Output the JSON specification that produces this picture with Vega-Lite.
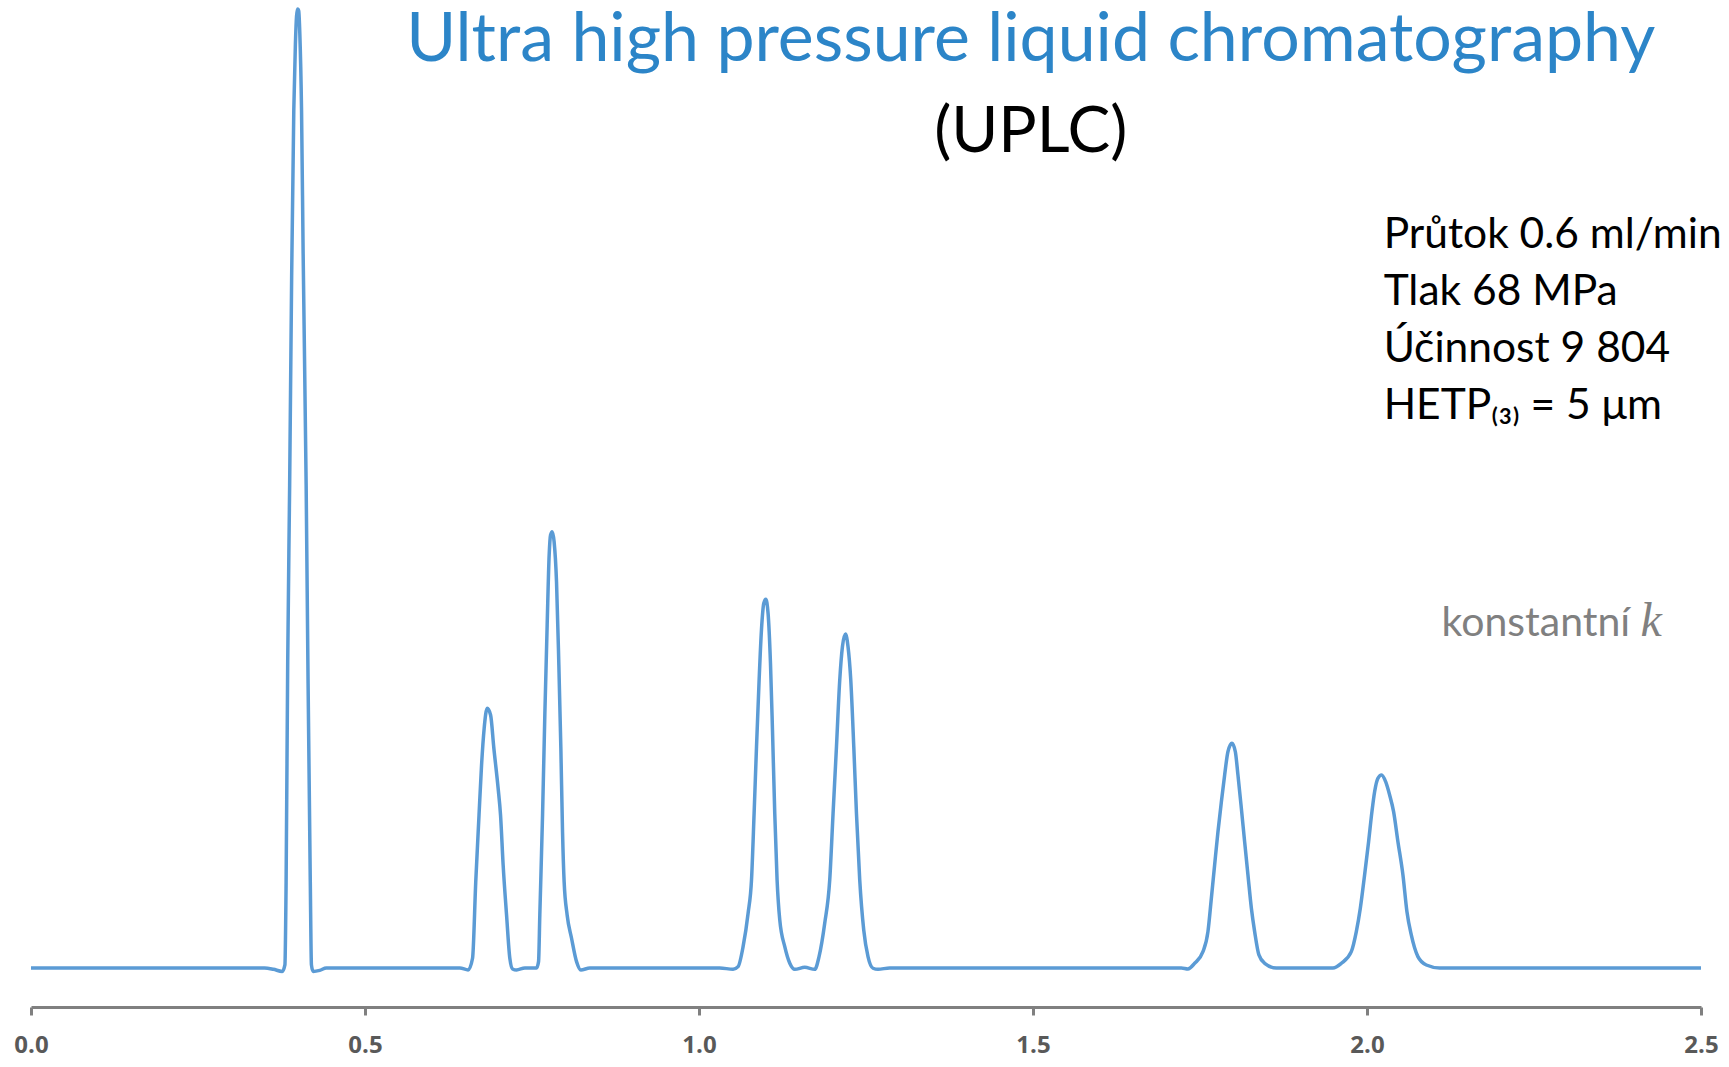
{
  "$schema": "https://vega.github.io/schema/vega-lite/v6.json",
  "width": 1670,
  "height": 1007,
  "autosize": {"type": "none"},
  "padding": {"left": 31, "top": 0, "right": 28, "bottom": 60},
  "background": "white",
  "config": {"view": {"stroke": null}},
  "layer": [
    {
      "data": {"values": [
        {"t": 0, "s": 0}, {"t": 0.3497, "s": 0}, {"t": 0.3629, "s": -0.14}, {"t": 0.3761, "s": -0.36},
        {"t": 0.3801, "s": 0.32}, {"t": 0.3819, "s": 8.95}, {"t": 0.3843, "s": 31.95}, {"t": 0.3872, "s": 50.34},
        {"t": 0.3902, "s": 72.19}, {"t": 0.3934, "s": 89.44}, {"t": 0.3958, "s": 96.34}, {"t": 0.3975, "s": 99.22},
        {"t": 0.3991, "s": 100}, {"t": 0.4008, "s": 99.79}, {"t": 0.4024, "s": 97.49}, {"t": 0.405, "s": 89.44},
        {"t": 0.4074, "s": 74.49}, {"t": 0.4119, "s": 50.34}, {"t": 0.4148, "s": 29.65}, {"t": 0.4181, "s": 8.95},
        {"t": 0.4198, "s": 0.32}, {"t": 0.4223, "s": -0.36}, {"t": 0.4322, "s": -0.25}, {"t": 0.4421, "s": 0},
        {"t": 0.642, "s": 0}, {"t": 0.6544, "s": -0.21}, {"t": 0.661, "s": 1.01}, {"t": 0.6658, "s": 9.0},
        {"t": 0.6707, "s": 15.95}, {"t": 0.6745, "s": 21.17}, {"t": 0.6784, "s": 24.99}, {"t": 0.6829, "s": 27.08},
        {"t": 0.688, "s": 26.38}, {"t": 0.6929, "s": 22.91}, {"t": 0.6993, "s": 18.74}, {"t": 0.7029, "s": 15.95},
        {"t": 0.7068, "s": 10.74}, {"t": 0.7119, "s": 5.53}, {"t": 0.7168, "s": 1.01}, {"t": 0.7209, "s": -0.1},
        {"t": 0.7269, "s": -0.21}, {"t": 0.7393, "s": 0}, {"t": 0.7568, "s": 0}, {"t": 0.7598, "s": 0.66},
        {"t": 0.7617, "s": 5.53}, {"t": 0.7658, "s": 15.95}, {"t": 0.7692, "s": 26.38}, {"t": 0.7727, "s": 35.77},
        {"t": 0.7757, "s": 43.07}, {"t": 0.7778, "s": 45.15}, {"t": 0.7802, "s": 45.5}, {"t": 0.7831, "s": 44.45},
        {"t": 0.7867, "s": 40.28}, {"t": 0.7902, "s": 31.6}, {"t": 0.7932, "s": 22.91}, {"t": 0.7957, "s": 14.21},
        {"t": 0.7981, "s": 9.0}, {"t": 0.8026, "s": 5.53}, {"t": 0.8092, "s": 3.1}, {"t": 0.8167, "s": 0.66},
        {"t": 0.8231, "s": -0.21}, {"t": 0.8366, "s": 0},
        {"t": 1.0311, "s": 0}, {"t": 1.051, "s": -0.14}, {"t": 1.0585, "s": 0.14}, {"t": 1.066, "s": 2.22},
        {"t": 1.0735, "s": 5.7}, {"t": 1.0786, "s": 9.18}, {"t": 1.0825, "s": 16.13}, {"t": 1.0861, "s": 23.08},
        {"t": 1.09, "s": 30.03}, {"t": 1.0935, "s": 35.25}, {"t": 1.097, "s": 38.03}, {"t": 1.1, "s": 38.45},
        {"t": 1.1034, "s": 36.99}, {"t": 1.107, "s": 31.77}, {"t": 1.11, "s": 24.82}, {"t": 1.1134, "s": 16.13},
        {"t": 1.1169, "s": 9.18}, {"t": 1.1209, "s": 5.01}, {"t": 1.1284, "s": 2.22}, {"t": 1.1359, "s": 0.49},
        {"t": 1.1434, "s": -0.14}, {"t": 1.1583, "s": 0.07}, {"t": 1.1733, "s": -0.14}, {"t": 1.1797, "s": 1.18},
        {"t": 1.1882, "s": 4.66}, {"t": 1.1957, "s": 9.18}, {"t": 1.2007, "s": 16.13}, {"t": 1.2058, "s": 23.08},
        {"t": 1.2107, "s": 30.03}, {"t": 1.2147, "s": 33.5}, {"t": 1.2192, "s": 34.83}, {"t": 1.2231, "s": 33.5},
        {"t": 1.2272, "s": 30.03}, {"t": 1.2317, "s": 23.08}, {"t": 1.2357, "s": 16.13}, {"t": 1.2406, "s": 9.18},
        {"t": 1.2466, "s": 3.96}, {"t": 1.253, "s": 1.18}, {"t": 1.2605, "s": -0.03}, {"t": 1.268, "s": -0.14},
        {"t": 1.2855, "s": 0},
        {"t": 1.7221, "s": 0}, {"t": 1.732, "s": -0.1}, {"t": 1.742, "s": 0.49}, {"t": 1.7544, "s": 1.7},
        {"t": 1.7619, "s": 3.79}, {"t": 1.767, "s": 7.27}, {"t": 1.7719, "s": 10.74}, {"t": 1.7769, "s": 14.21},
        {"t": 1.782, "s": 17.34}, {"t": 1.7869, "s": 20.13}, {"t": 1.7918, "s": 22.55}, {"t": 1.7978, "s": 23.43},
        {"t": 1.8029, "s": 22.55}, {"t": 1.8068, "s": 20.13}, {"t": 1.8119, "s": 16.65}, {"t": 1.8168, "s": 13.17},
        {"t": 1.8218, "s": 9.7}, {"t": 1.8269, "s": 6.23}, {"t": 1.8318, "s": 3.79}, {"t": 1.8382, "s": 1.36},
        {"t": 1.8468, "s": 0.49}, {"t": 1.8643, "s": 0},
        {"t": 1.949, "s": 0}, {"t": 1.9616, "s": 0.49}, {"t": 1.9765, "s": 1.7}, {"t": 1.984, "s": 3.79},
        {"t": 1.99, "s": 6.23}, {"t": 1.9964, "s": 9.7}, {"t": 2.0024, "s": 13.17}, {"t": 2.0074, "s": 16.3},
        {"t": 2.0114, "s": 18.38}, {"t": 2.0163, "s": 19.78}, {"t": 2.0219, "s": 20.13}, {"t": 2.0279, "s": 19.43},
        {"t": 2.0339, "s": 18.04}, {"t": 2.0398, "s": 16.3}, {"t": 2.0463, "s": 13.17}, {"t": 2.0538, "s": 9.7},
        {"t": 2.0598, "s": 5.87}, {"t": 2.0663, "s": 3.44}, {"t": 2.0762, "s": 1.18}, {"t": 2.0888, "s": 0.31},
        {"t": 2.1087, "s": 0}, {"t": 2.5, "s": 0}
      ]},
      "mark": {"type": "line", "color": "#5B9BD5", "strokeWidth": 3.5, "interpolate": "monotone"},
      "encoding": {
        "x": {
          "field": "t", "type": "quantitative",
          "scale": {"domain": [0, 2.5], "nice": false, "zero": false},
          "axis": {
            "title": null, "values": [0, 0.5, 1, 1.5, 2, 2.5], "format": ".1f", "grid": false,
            "domainColor": "#808080", "domainWidth": 3, "tickColor": "#808080", "tickWidth": 3, "tickSize": 8,
            "labelColor": "#595959", "labelFont": "Open Sans", "labelFontWeight": "bold", "labelFontSize": 24,
            "labelPadding": 18, "labelFlush": false
          }
        },
        "y": {
          "field": "s", "type": "quantitative",
          "scale": {"domain": [-4.07, 100.94], "nice": false, "zero": false},
          "axis": null
        }
      }
    },
    {
      "data": {"values": [{"label": "Ultra high pressure liquid chromatography"}]},
      "mark": {"type": "text", "font": "Lato", "fontSize": 68, "color": "#2C85C8", "align": "center", "baseline": "alphabetic"},
      "encoding": {
        "x": {"datum": 1.4966, "type": "quantitative"},
        "y": {"datum": 94.6, "type": "quantitative", "axis": null},
        "text": {"field": "label"}
      }
    },
    {
      "data": {"values": [{"label": "(UPLC)"}]},
      "mark": {"type": "text", "font": "Lato", "fontSize": 64, "color": "#000000", "align": "center", "baseline": "alphabetic"},
      "encoding": {
        "x": {"datum": 1.4966, "type": "quantitative"},
        "y": {"datum": 85.09, "type": "quantitative", "axis": null},
        "text": {"field": "label"}
      }
    },
    {
      "data": {"values": [{"label": "Průtok 0.6 ml/min\nTlak 68 MPa\nÚčinnost 9 804\nHETP₍₃₎ = 5 μm"}]},
      "mark": {"type": "text", "font": "Lato", "fontSize": 42.5, "color": "#000000", "align": "left", "baseline": "alphabetic", "lineBreak": "\n", "lineHeight": 57},
      "encoding": {
        "x": {"datum": 2.0249, "type": "quantitative"},
        "y": {"datum": 75.08, "type": "quantitative", "axis": null},
        "text": {"field": "label"}
      }
    },
    {
      "data": {"values": [{"label": "konstantní"}]},
      "mark": {"type": "text", "font": "Lato", "fontSize": 41, "color": "#808080", "align": "left", "baseline": "alphabetic"},
      "encoding": {
        "x": {"datum": 2.1116, "type": "quantitative"},
        "y": {"datum": 34.62, "type": "quantitative", "axis": null},
        "text": {"field": "label"}
      }
    },
    {
      "data": {"values": [{"label": "k"}]},
      "mark": {"type": "text", "font": "Liberation Serif", "fontStyle": "italic", "fontSize": 48, "color": "#808080", "align": "left", "baseline": "alphabetic"},
      "encoding": {
        "x": {"datum": 2.4094, "type": "quantitative"},
        "y": {"datum": 34.62, "type": "quantitative", "axis": null},
        "text": {"field": "label"}
      }
    }
  ]
}
